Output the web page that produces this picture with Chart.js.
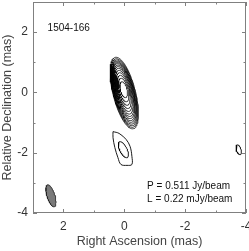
<!DOCTYPE html>
<html><head><meta charset="utf-8">
<script src="https://cdn.jsdelivr.net/npm/chart.js@4"></script>
<style>html,body{margin:0;padding:0;background:#fff;overflow:hidden}#wrap{width:249px;height:251px;position:relative}</style>
</head><body>
<div id="wrap"><canvas id="c"></canvas></div>
<script>
// ---- data (mas) ----
const raTicks = [3, 2, 1, 0, -1, -2, -3, -4];
const decTicks = [-4, -3, -2, -1, 0, 1, 2, 3];
const labeledTicks = [2, 0, -2, -4];

// core contours (outer -> inner)
const coreMajor = [1.22, 1.17, 1.12, 1.07, 1.02, 0.97, 0.91, 0.85, 0.78, 0.70, 0.61, 0.51, 0.40, 0.27];
const coreMinor = [0.370, 0.357, 0.343, 0.329, 0.316, 0.302, 0.285, 0.269, 0.250, 0.228, 0.203, 0.176, 0.146, 0.110];
const coreRA = [0.00, 0.00, 0.002, 0.004, 0.006, 0.008, 0.010, 0.012, 0.014, 0.016, 0.018, 0.020, 0.020, 0.020];
const coreDec = [-0.02, -0.02, -0.015, -0.01, 0.0, 0.01, 0.02, 0.03, 0.04, 0.05, 0.06, 0.07, 0.08, 0.09];
const corePA = 14;

// jet component, outer contour
const jetOuterRA = [0.37, 0.17, -0.06, -0.19, -0.25, -0.25, -0.09, 0.11, 0.21, 0.31, 0.37, 0.37];
const jetOuterDec = [-1.30, -1.36, -1.56, -1.79, -2.12, -2.39, -2.42, -2.39, -2.16, -1.83, -1.50, -1.30];

// small elliptical contours: jet inner, eastern island
const islandRA = [0.03, -3.76];
const islandDec = [-1.90, -1.90];
const islandMajor = [0.29, 0.17];
const islandMinor = [0.12, 0.075];
const islandPA = [26, 18];

// restoring beam
const beamRA = [2.41];
const beamDec = [-3.43];
const beamMajor = [0.38];
const beamMinor = [0.13];
const beamPA = [17];

const sourceName = '1504-166';
const peakText = 'P = 0.511 Jy/beam';
const lowText = 'L = 0.22 mJy/beam';

// ---- build ----
function ellipse(ra, dec, a, b, pa) {
  const p = pa * Math.PI / 180, pts = [], n = 90;
  for (let i = 0; i <= n; i++) {
    const t = 2 * Math.PI * i / n, u = a * Math.cos(t), v = b * Math.sin(t);
    pts.push({x: ra + u * Math.sin(p) + v * Math.cos(p), y: dec + u * Math.cos(p) - v * Math.sin(p)});
  }
  return pts;
}
const lineDs = (data, extra) => Object.assign({data, showLine: true, pointRadius: 0, borderColor: '#000', borderWidth: 0.75, fill: false, tension: 0}, extra || {});
const datasets = [];
coreMajor.forEach((a, i) => datasets.push(lineDs(ellipse(coreRA[i], coreDec[i], a, coreMinor[i], corePA))));
datasets.push(lineDs(jetOuterRA.map((r, i) => ({x: r, y: jetOuterDec[i]})), {tension: 0.35, borderWidth: 0.9}));
islandRA.forEach((r, i) => datasets.push(lineDs(ellipse(r, islandDec[i], islandMajor[i], islandMinor[i], islandPA[i]), {borderWidth: 0.9})));
beamRA.forEach((r, i) => datasets.push(lineDs(ellipse(r, beamDec[i], beamMajor[i], beamMinor[i], beamPA[i]), {fill: 'shape', backgroundColor: '#7a7a7a', borderColor: '#222', borderWidth: 0.8})));

Chart.defaults.font.family = "'Liberation Sans', Arial, sans-serif";
const tickCb = v => labeledTicks.includes(v) ? String(v) : '';
const zeroPad = s => { s.paddingLeft = 0; s.paddingRight = 0; s.paddingTop = 0; s.paddingBottom = 0; };

const framePlugin = {
  id: 'frame',
  afterDatasetsDraw(chart) {
    const {ctx, chartArea: ca, scales: {x, y}} = chart;
    ctx.save();
    ctx.strokeStyle = '#808080'; ctx.lineWidth = 1;
    ctx.strokeRect(Math.round(ca.left) + 0.5, Math.round(ca.top) + 0.5, Math.round(ca.right - ca.left) - 1, Math.round(ca.bottom - ca.top) - 1);
    ctx.beginPath();
    raTicks.forEach(v => {
      const px = Math.round(x.getPixelForValue(v)) + 0.5, L = labeledTicks.includes(v) ? 4 : 2.5;
      ctx.moveTo(px, ca.bottom); ctx.lineTo(px, ca.bottom - L);
      ctx.moveTo(px, ca.top); ctx.lineTo(px, ca.top + L);
    });
    decTicks.forEach(v => {
      const py = Math.round(y.getPixelForValue(v)) + 0.5, L = labeledTicks.includes(v) ? 4 : 2.5;
      ctx.moveTo(ca.left, py); ctx.lineTo(ca.left + L, py);
      ctx.moveTo(ca.right, py); ctx.lineTo(ca.right - L, py);
    });
    ctx.stroke();
    ctx.fillStyle = '#111';
    ctx.font = "10px 'Liberation Sans', Arial, sans-serif";
    ctx.textBaseline = 'middle'; ctx.textAlign = 'left';
    ctx.fillText(sourceName, x.getPixelForValue(2.52), y.getPixelForValue(2.14));
    ctx.fillText(peakText, x.getPixelForValue(-0.75), y.getPixelForValue(-3.12));
    ctx.fillText(lowText, x.getPixelForValue(-0.75), y.getPixelForValue(-3.55));
    ctx.restore();
  }
};

new Chart(document.getElementById('c'), {
  type: 'scatter',
  data: {datasets},
  options: {
    responsive: true, maintainAspectRatio: false, animation: false,
    layout: {padding: {top: 2, right: 3, left: 0, bottom: 0}},
    plugins: {legend: {display: false}, tooltip: {enabled: false}},
    scales: {
      x: {
        type: 'linear', min: -4, max: 3, reverse: true, position: 'bottom',
        grid: {display: false, drawTicks: false}, border: {display: false},
        afterBuildTicks: s => { s.ticks = raTicks.map(v => ({value: v})); },
        afterFit: s => { s.height = 38; zeroPad(s); },
        ticks: {callback: tickCb, autoSkip: false, maxRotation: 0, padding: 6, color: '#333', font: {size: 12}},
        title: {display: true, text: 'Right Ascension (mas)', color: '#444', font: {size: 12.5}, padding: {top: 2, bottom: 2}}
      },
      y: {
        type: 'linear', min: -4, max: 3, position: 'left',
        grid: {display: false, drawTicks: false}, border: {display: false},
        afterBuildTicks: s => { s.ticks = decTicks.map(v => ({value: v})); },
        afterFit: s => { s.width = 33; zeroPad(s); },
        ticks: {callback: tickCb, autoSkip: false, padding: 5, color: '#333', font: {size: 12}},
        title: {display: true, text: 'Relative Declination (mas)', color: '#444', font: {size: 12.5}, padding: {top: 0, bottom: 0}}
      }
    }
  },
  plugins: [framePlugin]
});
</script>
</body></html>
